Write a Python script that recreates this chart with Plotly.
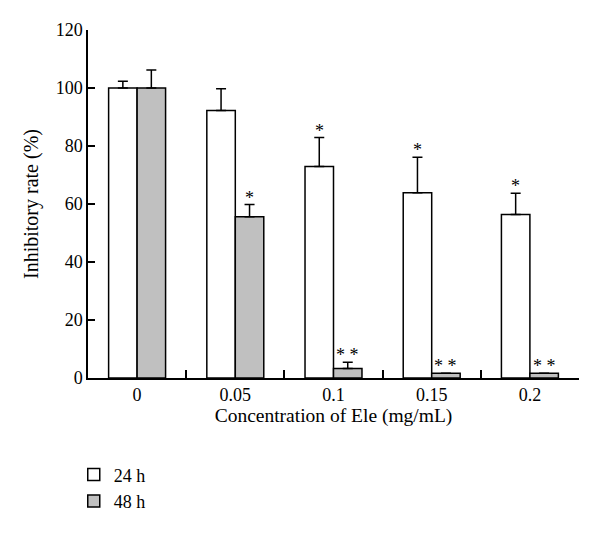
import plotly.graph_objects as go

concentrations = ["0", "0.05", "0.1", "0.15", "0.2"]
rate_24h = [100, 92.2, 72.9, 63.9, 56.4]
err_24h = [2.3, 7.5, 10.0, 12.2, 7.3]
rate_48h = [100, 55.6, 3.3, 1.6, 1.6]
err_48h = [6.2, 4.2, 2.1, 0, 0]
sig_24h = ["", "", "*", "*", "*"]
sig_48h = ["", "*", "* *", "* *", "* *"]

FONT = "Liberation Serif"
bargap = 0.42
half = (1 - bargap) / 4

fig = go.Figure()
fig.add_trace(go.Bar(
    x=concentrations, y=rate_24h, name="24 h",
    marker=dict(color="white", line=dict(color="black", width=1.5)),
    error_y=dict(type="data", array=err_24h, arrayminus=[0] * 5, symmetric=False,
                 color="black", thickness=1.5, width=5),
))
fig.add_trace(go.Bar(
    x=concentrations, y=rate_48h, name="48 h",
    marker=dict(color="#c0c0c0", line=dict(color="black", width=1.5)),
    error_y=dict(type="data", array=err_48h, arrayminus=[0] * 5, symmetric=False,
                 color="black", thickness=1.5, width=5),
))

for i in range(len(concentrations)):
    for sig, val, err, off in [(sig_24h[i], rate_24h[i], err_24h[i], -half),
                               (sig_48h[i], rate_48h[i], err_48h[i], half)]:
        if sig:
            fig.add_annotation(x=i + off, y=val + err, text=sig, showarrow=False,
                               yanchor="bottom", yshift=-5,
                               font=dict(family=FONT, size=18, color="black"))

# page body has an 8px margin, so the figure is drawn 8px smaller and offset
fig.update_layout(
    width=592, height=527,
    margin=dict(l=80, r=21, t=22, b=157),
    plot_bgcolor="white", paper_bgcolor="white",
    barmode="group", bargap=bargap, bargroupgap=0,
    font=dict(family=FONT, size=18, color="black"),
    showlegend=True,
    legend=dict(x=-0.029, y=-0.225, xanchor="left", yanchor="top",
                font=dict(family=FONT, size=18), tracegroupgap=0,
                bgcolor="rgba(0,0,0,0)"),
)
fig.update_xaxes(
    type="category", range=[-0.5, 4.5],
    showline=True, linecolor="black", linewidth=1.5,
    ticks="inside", tickson="boundaries", ticklen=8, tickwidth=1.5, tickcolor="black",
    showgrid=False, zeroline=False, tickfont=dict(size=18),
    title=dict(text="Concentration of Ele (mg/mL)", font=dict(family=FONT, size=19.5), standoff=4),
)
fig.update_yaxes(
    range=[0, 120], dtick=20,
    showline=True, linecolor="black", linewidth=1.5,
    ticks="inside", ticklen=7, tickwidth=1.5, tickcolor="black",
    showgrid=False, zeroline=False, tickfont=dict(size=18),
    title=dict(text="Inhibitory rate (%)", font=dict(family=FONT, size=20), standoff=12),
)

fig.write_html("out.html")
